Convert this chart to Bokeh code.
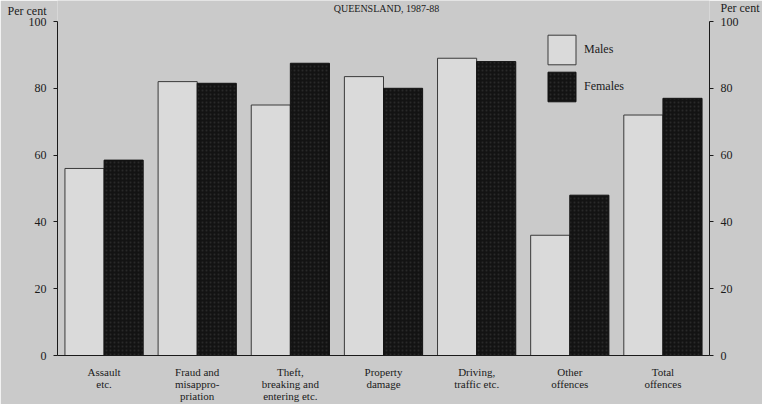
from bokeh.plotting import figure
from bokeh.models import FactorRange, Range1d, LinearAxis, Legend, LegendItem, Label, FixedTicker, ColumnDataSource
from bokeh.transform import dodge
from bokeh.embed import file_html
from bokeh.resources import INLINE

categories = ["Assault\netc.", "Fraud and\nmisappro-\npriation", "Theft,\nbreaking and\nentering etc.",
              "Property\ndamage", "Driving,\ntraffic etc.", "Other\noffences", "Total\noffences"]
males = [56, 82, 75, 83.5, 89, 36, 72]
females = [58.5, 81.5, 87.5, 80, 88, 48, 77]
y_ticks = [0, 20, 40, 60, 80, 100]
title_text = "QUEENSLAND, 1987-88"
unit_text = "Per cent"

FONT = "Liberation Serif"
BG = "#cacaca"
INK = "#1a1a1a"

W, H = 762, 404
LEFT, RIGHT, BOTTOM = 57, 46, 49
PX_PER_UNIT = 3.34
y_top = (H - BOTTOM) / PX_PER_UNIT          # frame reaches the top edge of the canvas
unit_left_at = y_top - 10 / PX_PER_UNIT     # where the left "Per cent" sits
unit_right_at = y_top - 5 / PX_PER_UNIT     # right "Per cent", near the top edge like the scan

src = ColumnDataSource(dict(cat=categories, males=males, females=females))

p = figure(x_range=FactorRange(*categories, range_padding=0), y_range=Range1d(0, y_top),
           width=W, height=H, output_backend="svg", toolbar_location=None,
           min_border_left=LEFT, min_border_right=RIGHT, min_border_top=0, min_border_bottom=BOTTOM)
p.title.visible = False
p.background_fill_color = BG
p.border_fill_color = BG
p.outline_line_color = None
p.grid.grid_line_color = None

rm = p.vbar(x=dodge("cat", -0.21, range=p.x_range), top="males", width=0.42, source=src,
            fill_color="#dadada", line_color="#3a3a3a", line_width=1)
rf = p.vbar(x=dodge("cat", 0.21, range=p.x_range), top="females", width=0.42, source=src,
            fill_color="#131313", line_color="#131313", line_width=1,
            hatch_pattern=".", hatch_color="#6a6a6a", hatch_alpha=0.25, hatch_scale=4)

yl = p.yaxis[0]
yr = LinearAxis()
p.add_layout(yr, "right")
for ax, extra in ((yl, unit_left_at), (yr, unit_right_at)):
    ax.ticker = FixedTicker(ticks=y_ticks + [extra], minor_ticks=y_ticks)
    ax.major_label_overrides = {extra: unit_text}
    ax.bounds = (0, 100)
    ax.major_tick_out = 0
    ax.major_tick_in = 0
    ax.minor_tick_out = 4
    ax.minor_tick_in = 0
    ax.axis_line_color = INK
    ax.minor_tick_line_color = INK
    ax.major_label_text_font = FONT
    ax.major_label_text_font_size = "12px"
    ax.major_label_text_color = INK
    ax.major_label_standoff = 7

xa = p.xaxis[0]
xa.major_tick_out = 0
xa.major_tick_in = 0
xa.axis_line_color = INK
xa.major_label_text_font = FONT
xa.major_label_text_font_size = "11px"
xa.major_label_text_line_height = 1.0
xa.major_label_text_color = INK
xa.major_label_standoff = 10

legend = Legend(items=[LegendItem(label="Males", renderers=[rm]),
                       LegendItem(label="Females", renderers=[rf])],
                location=(487, 250), glyph_width=35, glyph_height=37, spacing=-3,
                padding=0, margin=0, label_standoff=5, border_line_color=None,
                background_fill_alpha=0, label_text_font=FONT, label_text_font_size="12px",
                label_text_color=INK)
p.add_layout(legend)

p.add_layout(Label(x=386 - LEFT, y=H - BOTTOM - 2, x_units="screen", y_units="screen", text=title_text,
                   text_font=FONT, text_font_size="10px", text_baseline="top", text_align="center",
                   text_color=INK))

open("out.html", "w").write(file_html(p, INLINE))
